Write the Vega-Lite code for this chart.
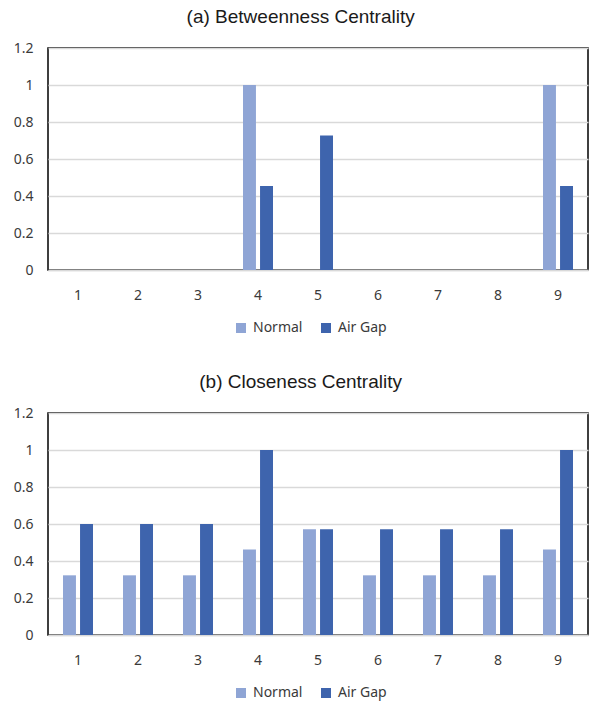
{
  "$schema": "https://vega.github.io/schema/vega-lite/v6.json",
  "padding": {"left": 12, "top": 7, "right": 6, "bottom": 5},
  "background": "white",
  "datasets": {
    "betweenness": [
      {"node": "1", "series": "Normal", "value": 0}, {"node": "1", "series": "Air Gap", "value": 0},
      {"node": "2", "series": "Normal", "value": 0}, {"node": "2", "series": "Air Gap", "value": 0},
      {"node": "3", "series": "Normal", "value": 0}, {"node": "3", "series": "Air Gap", "value": 0},
      {"node": "4", "series": "Normal", "value": 1}, {"node": "4", "series": "Air Gap", "value": 0.4545},
      {"node": "5", "series": "Normal", "value": 0}, {"node": "5", "series": "Air Gap", "value": 0.7273},
      {"node": "6", "series": "Normal", "value": 0}, {"node": "6", "series": "Air Gap", "value": 0},
      {"node": "7", "series": "Normal", "value": 0}, {"node": "7", "series": "Air Gap", "value": 0},
      {"node": "8", "series": "Normal", "value": 0}, {"node": "8", "series": "Air Gap", "value": 0},
      {"node": "9", "series": "Normal", "value": 1}, {"node": "9", "series": "Air Gap", "value": 0.4545}
    ],
    "closeness": [
      {"node": "1", "series": "Normal", "value": 0.3226}, {"node": "1", "series": "Air Gap", "value": 0.6},
      {"node": "2", "series": "Normal", "value": 0.3226}, {"node": "2", "series": "Air Gap", "value": 0.6},
      {"node": "3", "series": "Normal", "value": 0.3226}, {"node": "3", "series": "Air Gap", "value": 0.6},
      {"node": "4", "series": "Normal", "value": 0.4615}, {"node": "4", "series": "Air Gap", "value": 1},
      {"node": "5", "series": "Normal", "value": 0.5714}, {"node": "5", "series": "Air Gap", "value": 0.5714},
      {"node": "6", "series": "Normal", "value": 0.3226}, {"node": "6", "series": "Air Gap", "value": 0.5714},
      {"node": "7", "series": "Normal", "value": 0.3226}, {"node": "7", "series": "Air Gap", "value": 0.5714},
      {"node": "8", "series": "Normal", "value": 0.3226}, {"node": "8", "series": "Air Gap", "value": 0.5714},
      {"node": "9", "series": "Normal", "value": 0.4615}, {"node": "9", "series": "Air Gap", "value": 1}
    ]
  },
  "config": {
    "view": {"stroke": "#000000", "strokeWidth": 1.5},
    "font": "Noto Sans",
    "title": {"font": "Liberation Sans", "fontSize": 19, "fontWeight": "normal", "color": "#1a1a1a", "anchor": "middle", "frame": "bounds", "offset": 14},
    "axis": {"labelFont": "Noto Sans", "labelFontSize": 14, "labelColor": "#3a3a3a", "title": null, "ticks": false},
    "legend": {"orient": "none", "direction": "horizontal", "title": null, "labelFont": "Noto Sans", "labelFontSize": 14, "labelColor": "#3a3a3a", "symbolType": "square", "symbolSize": 100, "symbolStrokeWidth": 0, "columnPadding": 16, "labelOffset": 5}
  },
  "spacing": 36,
  "resolve": {"scale": {"color": "independent"}, "legend": {"color": "independent"}},
  "vconcat": [
    {
      "title": "(a) Betweenness Centrality",
      "width": 540,
      "height": 222,
      "data": {"name": "betweenness"},
      "mark": {"type": "bar"},
      "encoding": {
        "x": {"field": "node", "type": "nominal", "sort": null, "scale": {"paddingInner": 0.5, "paddingOuter": 0.25}, "axis": {"labelAngle": 0, "labelPadding": 18, "domainColor": "#d9d9d9", "domainWidth": 1.5, "grid": false}},
        "xOffset": {"field": "series", "type": "nominal", "sort": ["Normal", "Air Gap"], "scale": {"paddingInner": 0.24}},
        "y": {"field": "value", "type": "quantitative", "scale": {"domain": [0, 1.2], "nice": false}, "axis": {"values": [0, 0.2, 0.4, 0.6, 0.8, 1, 1.2], "format": ".1~f", "domain": false, "gridColor": "#d9d9d9", "gridWidth": 1.5, "labelPadding": 15}},
        "color": {"field": "series", "type": "nominal", "sort": ["Normal", "Air Gap"], "scale": {"domain": ["Normal", "Air Gap"], "range": ["#8fa5d5", "#3e64ad"]}, "legend": {"legendX": 186, "legendY": 273}}
      }
    },
    {
      "title": "(b) Closeness Centrality",
      "width": 540,
      "height": 222,
      "data": {"name": "closeness"},
      "mark": {"type": "bar"},
      "encoding": {
        "x": {"field": "node", "type": "nominal", "sort": null, "scale": {"paddingInner": 0.5, "paddingOuter": 0.25}, "axis": {"labelAngle": 0, "labelPadding": 18, "domainColor": "#d9d9d9", "domainWidth": 1.5, "grid": false}},
        "xOffset": {"field": "series", "type": "nominal", "sort": ["Normal", "Air Gap"], "scale": {"paddingInner": 0.24}},
        "y": {"field": "value", "type": "quantitative", "scale": {"domain": [0, 1.2], "nice": false}, "axis": {"values": [0, 0.2, 0.4, 0.6, 0.8, 1, 1.2], "format": ".1~f", "domain": false, "gridColor": "#d9d9d9", "gridWidth": 1.5, "labelPadding": 15}},
        "color": {"field": "series", "type": "nominal", "sort": ["Normal", "Air Gap"], "scale": {"domain": ["Normal", "Air Gap"], "range": ["#8fa5d5", "#3e64ad"]}, "legend": {"legendX": 186, "legendY": 273}}
      }
    }
  ]
}
